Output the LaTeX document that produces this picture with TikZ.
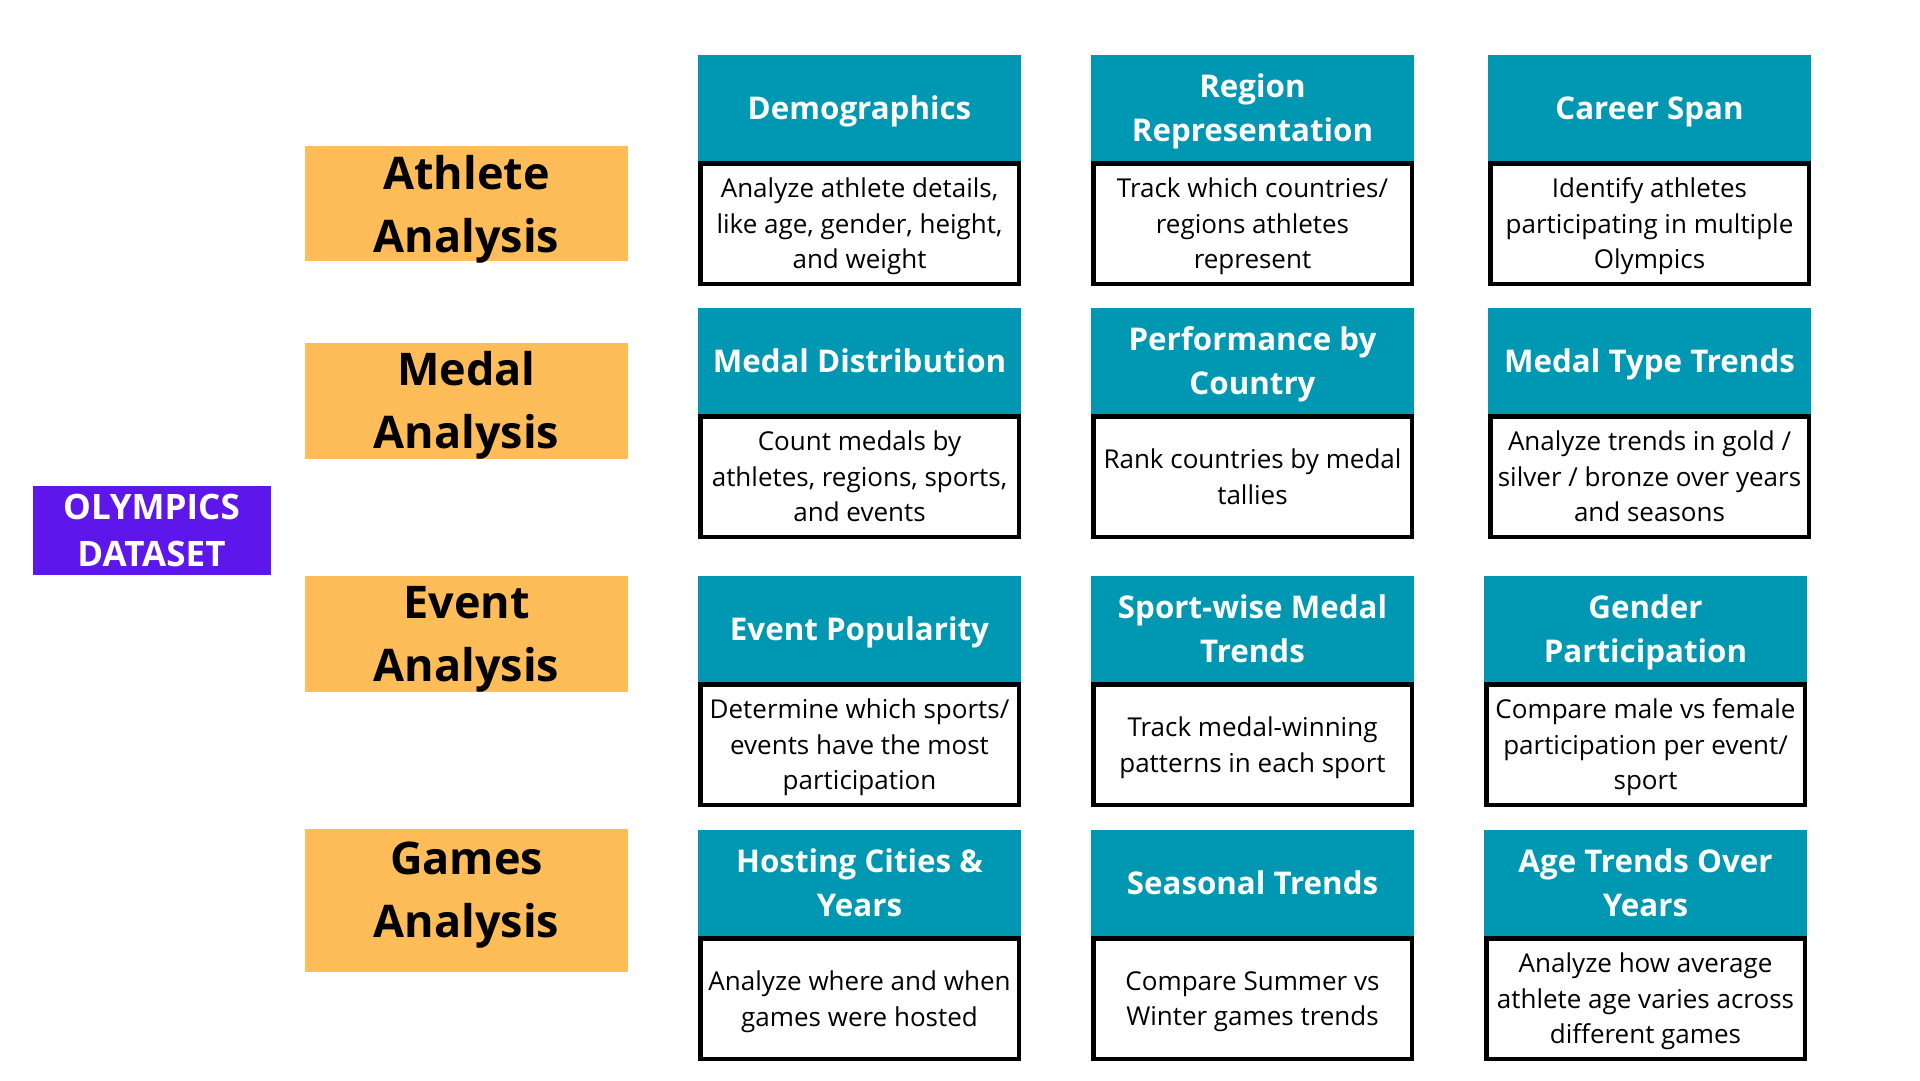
\documentclass[tikz,border=0pt]{standalone}
\usepackage{fontspec}
\setmainfont{Open Sans}
\definecolor{hdrcol}{HTML}{0097B2}
\definecolor{catcol}{HTML}{FFBD59}
\definecolor{rootcol}{HTML}{5E17EB}
\begin{document}
\begin{tikzpicture}[x=1pt,y=-1pt,
  root/.style={fill=rootcol, text=white, align=center, inner sep=0pt,
    minimum width=238, minimum height=89,
    font=\bfseries\fontsize{35}{47}\selectfont},
  catbox/.style={fill=catcol, inner sep=0pt, minimum width=323},
  cattext/.style={align=center, inner sep=0pt, text=black,
    font=\bfseries\fontsize{45}{63}\selectfont},
  hdr/.style={fill=hdrcol, text=white, align=center, inner sep=0pt,
    minimum width=323, minimum height=106, text depth=0pt,
    font=\bfseries\fontsize{31.3}{44}\selectfont},
  body/.style={draw=black, line width=4.5pt, fill=white, align=center,
    inner sep=0pt, minimum width=318.5, minimum height=120.5, text depth=0pt,
    font=\fontsize{26}{35.5}\selectfont}
]
\useasboundingbox[fill=white] (0,0) rectangle (1920,1080);

% root
\node[root] (root) at (151.5,530.5) {OLYMPICS\\DATASET};

% analysis categories
\node[catbox, minimum height=115] (athlete) at (466.5,203.5) {};
\node[cattext] (athleteT) at (466.5,209) {Athlete\\Analysis};
\node[catbox, minimum height=116] (medal) at (466.5,401) {};
\node[cattext] (medalT) at (466.5,405.5) {Medal\\Analysis};
\node[catbox, minimum height=143] (games) at (466.5,900.5) {};
\node[cattext] (gamesT) at (466.5,895) {Games\\Analysis};
\node[catbox, minimum height=116] (event) at (466.5,634) {};
\node[cattext] (eventT) at (466.5,639.5) {Event\\Analysis};

% row 1 (top 55)
\node[hdr]  (h11) at (859.5,108) {Demographics};
\node[body] (b11) at (859.5,223.5) {Analyze athlete details,\\like age, gender, height,\\and weight};
\node[hdr]  (h12) at (1252.5,108) {Region\\Representation};
\node[body] (b12) at (1252.5,223.5) {Track which countries/\\regions athletes\\represent};
\node[hdr]  (h13) at (1649.5,108) {Career Span};
\node[body] (b13) at (1649.5,223.5) {Identify athletes\\participating in multiple\\Olympics};

% row 2 (top 308)
\node[hdr]  (h21) at (859.5,361) {Medal Distribution};
\node[body] (b21) at (859.5,476.5) {Count medals by\\athletes, regions, sports,\\and events};
\node[hdr]  (h22) at (1252.5,361) {Performance by\\Country};
\node[body] (b22) at (1252.5,476.5) {Rank countries by medal\\tallies};
\node[hdr]  (h23) at (1649.5,361) {Medal Type Trends};
\node[body] (b23) at (1649.5,476.5) {Analyze trends in gold /\\silver / bronze over years\\and seasons};

% row 3 (top 576)
\node[hdr]  (h31) at (859.5,629) {Event Popularity};
\node[body] (b31) at (859.5,744.5) {Determine which sports/\\events have the most\\participation};
\node[hdr]  (h32) at (1252.5,629) {Sport-wise Medal\\Trends};
\node[body] (b32) at (1252.5,744.5) {Track medal-winning\\patterns in each sport};
\node[hdr]  (h33) at (1645.5,629) {Gender\\Participation};
\node[body] (b33) at (1645.5,744.5) {Compare male vs female\\participation per event/\\sport};

% row 4 (top 830)
\node[hdr]  (h41) at (859.5,883) {Hosting Cities \&\\Years};
\node[body] (b41) at (859.5,998.5) {Analyze where and when\\games were hosted};
\node[hdr]  (h42) at (1252.5,883) {Seasonal Trends};
\node[body] (b42) at (1252.5,998.5) {Compare Summer vs\\Winter games trends};
\node[hdr]  (h43) at (1645.5,883) {Age Trends Over\\Years};
\node[body] (b43) at (1645.5,998.5) {Analyze how average\\athlete age varies across\\different games};
\end{tikzpicture}
\end{document}
